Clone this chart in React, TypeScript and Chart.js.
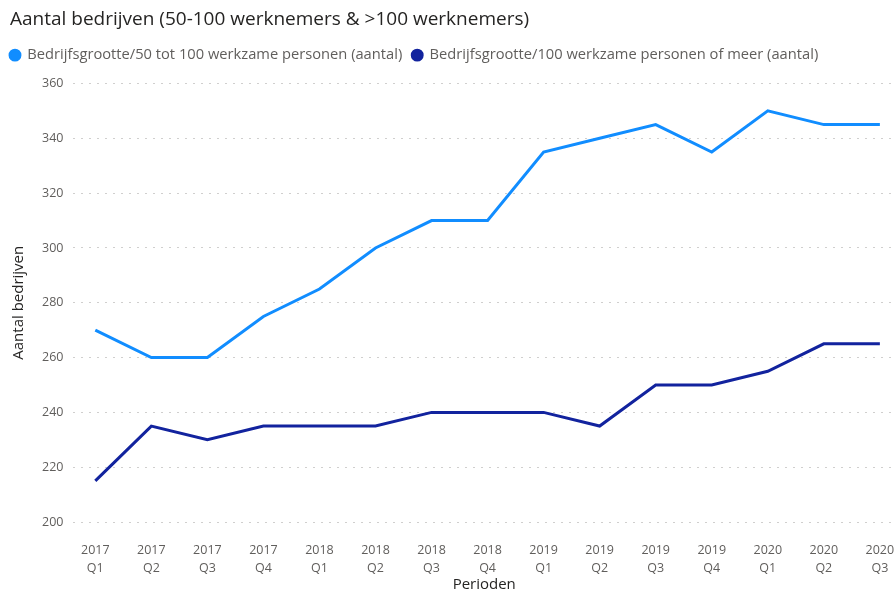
import React, { useEffect, useRef } from "react";
import { Chart, registerables } from "chart.js";

Chart.register(...registerables);

const years = ["2017", "2017", "2017", "2017", "2018", "2018", "2018", "2018", "2019", "2019", "2019", "2019", "2020", "2020", "2020"];
const quarters = ["Q1", "Q2", "Q3", "Q4", "Q1", "Q2", "Q3", "Q4", "Q1", "Q2", "Q3", "Q4", "Q1", "Q2", "Q3"];
const series50to100 = [270, 260, 260, 275, 285, 300, 310, 310, 335, 340, 345, 335, 350, 345, 345];
const series100plus = [215, 235, 230, 235, 235, 235, 240, 240, 240, 235, 250, 250, 255, 265, 265];
const yTicks = [200, 220, 240, 260, 280, 300, 320, 340, 360];

const FONT = "'Open Sans', 'Noto Sans', sans-serif";

const legendSpacer = {
  id: "legendSpacer",
  beforeInit(chart: any) {
    const orig = chart.legend.fit;
    chart.legend.fit = function () {
      orig.bind(chart.legend)();
      this.height += 11;
    };
  },
  beforeDraw(chart: any) {
    chart.legend.left = 0;
  },
};

export default function App() {
  const ref = useRef<HTMLCanvasElement | null>(null);
  useEffect(() => {
    document.body.style.margin = "0";
    const ctx = ref.current!;
    const chart = new Chart(ctx, {
      type: "line",
      plugins: [legendSpacer],
      data: {
        datasets: [
          {
            label: "Bedrijfsgrootte/50 tot 100 werkzame personen (aantal)",
            data: series50to100.map((v, i) => ({ x: i, y: v })),
            borderColor: "#118DFF",
            backgroundColor: "#118DFF",
            borderWidth: 3,
            pointRadius: 0,
            tension: 0,
          },
          {
            label: "Bedrijfsgrootte/100 werkzame personen of meer (aantal)",
            data: series100plus.map((v, i) => ({ x: i, y: v })),
            borderColor: "#12239E",
            backgroundColor: "#12239E",
            borderWidth: 3,
            pointRadius: 0,
            tension: 0,
          },
        ],
      },
      options: {
        animation: false,
        responsive: false,
        layout: { padding: { left: 10, right: 0, top: 0, bottom: 0 } },
        plugins: {
          title: {
            display: true,
            text: "Aantal bedrijven (50-100 werknemers & >100 werknemers)",
            align: "start",
            color: "#252423",
            font: { family: FONT, size: 19, weight: "normal" },
            padding: { top: 8, bottom: 7 },
          },
          legend: {
            display: true,
            align: "start",
            labels: {
              usePointStyle: true,
              pointStyle: "circle",
              boxWidth: 10,
              boxHeight: 7,
              padding: 10,
              color: "#605E5C",
              font: { family: FONT, size: 14.7 },
            },
          },
          tooltip: { enabled: false },
        },
        scales: {
          x: {
            type: "linear",
            min: -0.39,
            max: 14.27,
            afterBuildTicks: (axis: any) => {
              axis.ticks = years.map((_, i) => ({ value: i }));
            },
            afterFit: (axis: any) => {
              axis.paddingLeft = 0;
              axis.paddingRight = 0;
            },
            ticks: {
              color: "#605E5C",
              font: { family: FONT, size: 12.5, lineHeight: 1.4 },
              padding: 12,
              maxRotation: 0,
              autoSkip: false,
              callback: (v: any) => [years[v], quarters[v]],
            },
            grid: { display: false },
            border: { display: false },
            title: {
              display: true,
              text: "Perioden",
              color: "#252423",
              font: { family: FONT, size: 15 },
              padding: { top: -13, bottom: -3 },
            },
          },
          y: {
            min: 200,
            max: 360,
            afterBuildTicks: (axis: any) => {
              axis.ticks = yTicks.map((v) => ({ value: v }));
            },
            ticks: {
              color: "#605E5C",
              font: { family: FONT, size: 12.5 },
              padding: 10,
            },
            grid: {
              color: "#D0CFCE",
              lineWidth: 1,
              drawTicks: false,
            },
            border: { display: false, dash: [2, 6] },
            title: {
              display: true,
              text: "Aantal bedrijven",
              color: "#252423",
              font: { family: FONT, size: 15 },
              padding: { top: 0, bottom: 4 },
            },
          },
        },
      },
    } as any);
    return () => chart.destroy();
  }, []);
  return (
    <div style={{ position: "absolute", left: 0, top: 0, width: 895, height: 591 }}>
      <canvas ref={ref} width={895} height={591} style={{ width: 895, height: 591 }} />
    </div>
  );
}
